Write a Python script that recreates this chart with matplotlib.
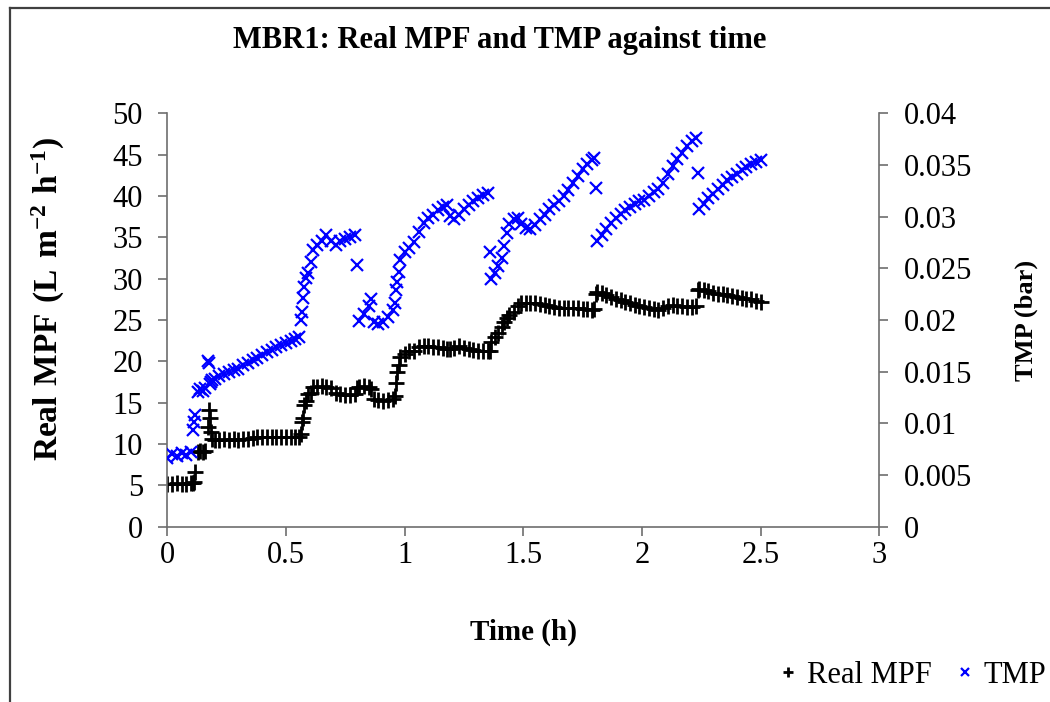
import matplotlib
matplotlib.use("Agg")
import matplotlib.pyplot as plt
from matplotlib.lines import Line2D
from matplotlib.ticker import FormatStrFormatter, MultipleLocator

plt.rcParams['font.family'] = ['Liberation Serif', 'DejaVu Serif']
plt.rcParams['mathtext.fontset'] = 'custom'
plt.rcParams['mathtext.rm'] = 'Liberation Serif'
plt.rcParams['mathtext.bf'] = 'Liberation Serif:bold'

# time (h), real MPF (L m-2 h-1), TMP (bar)
time_h = [0.00, 0.02, 0.04, 0.06, 0.08, 0.10, 0.11, 0.112, 0.115, 0.13,
          0.14, 0.15, 0.16, 0.17, 0.175, 0.18, 0.185, 0.19, 0.20, 0.22,
          0.24, 0.26, 0.28, 0.30, 0.32, 0.34, 0.36, 0.38, 0.40, 0.42,
          0.44, 0.46, 0.48, 0.50, 0.52, 0.54, 0.555, 0.562, 0.566, 0.572,
          0.578, 0.585, 0.595, 0.605, 0.615, 0.63, 0.65, 0.67, 0.69, 0.71,
          0.73, 0.75, 0.77, 0.79, 0.80, 0.81, 0.83, 0.85, 0.86, 0.87,
          0.89, 0.91, 0.93, 0.95, 0.96, 0.965, 0.97, 0.975, 0.98, 1.00,
          1.02, 1.04, 1.06, 1.08, 1.10, 1.12, 1.14, 1.16, 1.18, 1.19,
          1.21, 1.23, 1.25, 1.27, 1.29, 1.31, 1.33, 1.35, 1.36, 1.365,
          1.38, 1.395, 1.41, 1.42, 1.43, 1.44, 1.46, 1.48, 1.49, 1.51,
          1.53, 1.55, 1.57, 1.59, 1.61, 1.63, 1.65, 1.67, 1.69, 1.71,
          1.73, 1.75, 1.77, 1.79, 1.80, 1.805, 1.81, 1.83, 1.85, 1.87,
          1.89, 1.91, 1.93, 1.95, 1.97, 1.99, 2.01, 2.03, 2.05, 2.07,
          2.09, 2.11, 2.13, 2.15, 2.17, 2.19, 2.21, 2.23, 2.235, 2.24,
          2.26, 2.28, 2.30, 2.32, 2.34, 2.36, 2.38, 2.40, 2.42, 2.44,
          2.46, 2.48, 2.50]

mpf = [5.2, 5.2, 5.3, 5.2, 5.2, 5.3, 5.3, 5.4, 6.6, 9.0,
       9.1, 9.0, 9.1, 12.0, 14.1, 13.1, 11.4, 10.6, 10.5, 10.5,
       10.6, 10.5, 10.6, 10.5, 10.6, 10.6, 10.7, 10.8, 10.8, 10.8,
       10.8, 10.9, 10.9, 10.8, 10.9, 10.8, 10.9, 11.2, 12.7, 13.2,
       14.7, 15.2, 16.0, 16.2, 16.9, 16.9, 17.0, 16.9, 16.8, 16.2,
       16.0, 15.9, 15.9, 16.0, 16.8, 16.9, 17.0, 16.9, 16.7, 15.4,
       15.3, 15.2, 15.3, 15.5, 15.8, 17.4, 18.7, 19.6, 20.5, 20.9,
       21.2, 21.3, 21.7, 21.8, 21.8, 21.7, 21.7, 21.6, 21.5, 21.5,
       21.6, 21.8, 21.6, 21.5, 21.4, 21.3, 21.2, 21.2, 21.3, 22.3,
       23.0, 23.4, 24.2, 24.8, 25.3, 25.6, 26.0, 26.7, 27.0, 27.1,
       27.0, 27.0, 26.9, 26.8, 26.7, 26.6, 26.5, 26.4, 26.4, 26.5,
       26.4, 26.3, 26.3, 26.2, 26.3, 28.2, 28.4, 28.3, 28.0, 27.8,
       27.6, 27.4, 27.2, 27.0, 26.8, 26.7, 26.6, 26.5, 26.3, 26.2,
       26.5, 26.7, 26.8, 26.7, 26.7, 26.6, 26.6, 26.7, 28.6, 28.7,
       28.6, 28.5, 28.3, 28.2, 28.1, 28.0, 27.9, 27.8, 27.7, 27.6,
       27.5, 27.3, 27.2]

tmp = [0.0066, 0.0070, 0.0068, 0.0071, 0.0069, 0.0072, 0.0094, 0.0101, 0.0108, 0.0130,
       0.0133, 0.0131, 0.0134, 0.0160, 0.0158, 0.0138, 0.0140, 0.0142, 0.0143, 0.0146,
       0.0148, 0.0150, 0.0152, 0.0153, 0.0156, 0.0158, 0.0161, 0.0163, 0.0166, 0.0169,
       0.0171, 0.0174, 0.0176, 0.0178, 0.0180, 0.0182, 0.0184, 0.0200, 0.0208, 0.0221,
       0.0232, 0.0241, 0.0245, 0.0256, 0.0268, 0.0273, 0.0276, 0.0282, 0.0276, 0.0273,
       0.0276, 0.0278, 0.0280, 0.0282, 0.0253, 0.0199, 0.0206, 0.0214, 0.0220, 0.0198,
       0.0196, 0.0198, 0.0203, 0.0210, 0.0216, 0.0229, 0.0237, 0.0246, 0.0258, 0.0266,
       0.0270, 0.0275, 0.0285, 0.0294, 0.0299, 0.0302, 0.0306, 0.0309, 0.0311, 0.0301,
       0.0298, 0.0302, 0.0307, 0.0311, 0.0315, 0.0318, 0.0321, 0.0323, 0.0266, 0.0240,
       0.0245, 0.0252, 0.0260, 0.0272, 0.0284, 0.0293, 0.0298, 0.0299, 0.0293, 0.0289,
       0.0288, 0.0292, 0.0298, 0.0302, 0.0307, 0.0311, 0.0315, 0.0320, 0.0326, 0.0333,
       0.0339, 0.0346, 0.0351, 0.0355, 0.0357, 0.0328, 0.0276, 0.0282, 0.0288, 0.0294,
       0.0299, 0.0303, 0.0306, 0.0309, 0.0312, 0.0315, 0.0316, 0.0320, 0.0324, 0.0327,
       0.0333, 0.0341, 0.0349, 0.0356, 0.0362, 0.0368, 0.0373, 0.0376, 0.0342, 0.0307,
       0.0312, 0.0318, 0.0322, 0.0327, 0.0331, 0.0335, 0.0338, 0.0341, 0.0345, 0.0348,
       0.0351, 0.0353, 0.0355]

fig = plt.figure(figsize=(10.5, 7.02), dpi=100)
ax = fig.add_axes([0.1593, 0.2497, 0.678, 0.5889])
ax2 = ax.twinx()

axis_col = '#6e6e6e'

p1, = ax.plot(time_h, mpf, linestyle='none', marker='+', color='black', ms=11, mew=2.0)
p2, = ax2.plot(time_h, tmp, linestyle='none', marker='x', color='#0000ff', ms=9, mew=1.6)

ax.set_xlim(0, 3)
ax.set_ylim(0, 50)
ax2.set_ylim(0, 0.04)
ax.xaxis.set_major_locator(MultipleLocator(0.5))
ax.yaxis.set_major_locator(MultipleLocator(5))
ax2.yaxis.set_major_locator(MultipleLocator(0.005))
ax.xaxis.set_major_formatter(FormatStrFormatter('%g'))
ax2.yaxis.set_major_formatter(FormatStrFormatter('%g'))

for a in (ax, ax2):
    a.spines['top'].set_visible(False)
    for s in ('left', 'right', 'bottom'):
        a.spines[s].set_color(axis_col)
        a.spines[s].set_linewidth(1.2)
    a.tick_params(direction='out', length=6.5, width=1.2, color=axis_col,
                  labelsize=22, pad=11)
ax.tick_params(axis='x', pad=4)
ax.spines['right'].set_visible(False)
ax2.spines['left'].set_visible(False)
ax2.spines['bottom'].set_visible(False)

ax.set_xlabel('Time (h)', fontsize=21, fontweight='bold', labelpad=35)
ax.set_ylabel(r'$\mathbf{Real\ MPF\ (L\ m^{-2}\ h^{-1})}$', fontsize=24)
ax.yaxis.set_label_coords(-0.141, 0.55)
ax2.set_ylabel('TMP (bar)', fontsize=19, fontweight='bold', labelpad=31)

fig.text(0.476, 0.943, 'MBR1: Real MPF and TMP against time', ha='center', va='center',
         fontsize=22, fontweight='bold')

fig.legend([p1, p2], ['Real MPF', 'TMP'], loc='center right',
           bbox_to_anchor=(1.011, 0.038), ncol=2, frameon=False, fontsize=22,
           borderpad=0, handlelength=0.5, handletextpad=0.35, columnspacing=0.85,
           markerscale=0.6)

# chart area border (left and top edges visible)
fig.add_artist(Line2D([10 / 1050, 10 / 1050], [0, 1 - 8 / 702], color='#404040', lw=1.6))
fig.add_artist(Line2D([10 / 1050, 1], [1 - 8 / 702, 1 - 8 / 702], color='#404040', lw=1.6))

fig.savefig('out.png', dpi=100)
